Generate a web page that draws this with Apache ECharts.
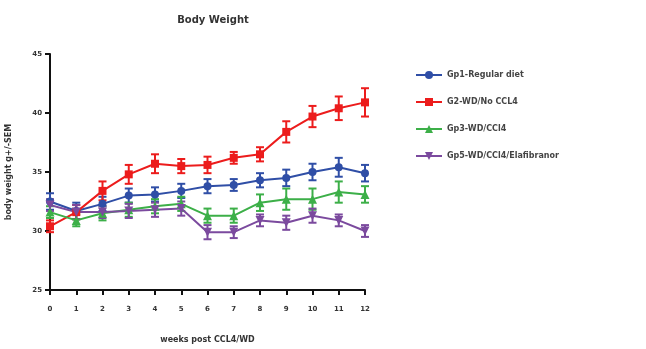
<!DOCTYPE html>
<html><head><meta charset="utf-8">
<script src="https://cdn.jsdelivr.net/npm/echarts@6/dist/echarts.min.js"></script>
<style>html,body{margin:0;padding:0;background:#fff}#c{width:646px;height:349px}</style>
</head><body><div id="c"></div>
<script>
const weeks = [0,1,2,3,4,5,6,7,8,9,10,11,12];
const names = ['Gp1-Regular diet','G2-WD/No CCL4','Gp3-WD/CCl4','Gp5-WD/CCl4/Elafibranor'];
const gp1 = [32.5,31.7,32.3,33.0,33.1,33.4,33.8,33.9,34.3,34.5,35.0,35.4,34.9];
const gp2 = [30.4,31.6,33.4,34.8,35.7,35.5,35.6,36.2,36.5,38.4,39.7,40.4,40.9];
const gp3 = [31.6,30.9,31.5,31.8,32.1,32.3,31.3,31.3,32.4,32.7,32.7,33.3,33.1];
const gp5 = [32.2,31.6,31.6,31.7,31.8,31.9,29.9,29.9,30.9,30.7,31.3,30.9,30.0];
const err1 = [0.7,0.7,0.6,0.6,0.6,0.6,0.6,0.5,0.6,0.7,0.7,0.8,0.7];
const err2 = [0.5,0.6,0.8,0.8,0.8,0.6,0.7,0.5,0.6,0.9,0.9,1.0,1.2];
const err3 = [0.5,0.5,0.6,0.6,0.6,0.6,0.6,0.6,0.7,0.9,0.9,0.9,0.7];
const err5 = [0.5,0.6,0.5,0.6,0.6,0.6,0.6,0.5,0.5,0.6,0.6,0.5,0.5];
const yTicks = [25,30,35,40,45];
const colors = ['#2f4ea6','#ec1c1c','#3caf48','#7b4a9e'];
const symbols = ['circle','rect','triangle','path://M0,0 L10,0 L5,9 Z'];
const vals = [gp1,gp2,gp3,gp5];
const errs = [err1,err2,err3,err5];

const chart = echarts.init(document.getElementById('c'));
const series = [];
vals.forEach((v,i)=>{
  series.push({
    type:'custom', name:'err'+i, silent:true,
    itemStyle:{color:colors[i]},
    data: weeks.map((w,j)=>[w, v[j]-errs[i][j], v[j]+errs[i][j]]),
    renderItem:(params, api)=>{
      const x = api.value(0);
      const lo = api.coord([x, api.value(1)]);
      const hi = api.coord([x, api.value(2)]);
      const hw = 4;
      const st = {stroke: colors[i], lineWidth: 2};
      return {type:'group', children:[
        {type:'line', shape:{x1:lo[0],y1:lo[1],x2:hi[0],y2:hi[1]}, style:st},
        {type:'line', shape:{x1:lo[0]-hw,y1:lo[1],x2:lo[0]+hw,y2:lo[1]}, style:st},
        {type:'line', shape:{x1:hi[0]-hw,y1:hi[1],x2:hi[0]+hw,y2:hi[1]}, style:st}
      ]};
    },
    z: 2
  });
  series.push({
    type:'line', name:names[i],
    data: weeks.map((w,j)=>[w, v[j]]),
    symbol: symbols[i], symbolSize: i===1?8:(i===0?8:9),
    lineStyle:{color:colors[i], width:2},
    itemStyle:{color:colors[i]},
    z: 3
  });
});

chart.setOption({
  animation:false,
  title:{text:'Body Weight', left:208, top:10, textAlign:'center',
    textStyle:{fontFamily:'DejaVu Sans', fontSize:10, fontWeight:'bold', color:'#333'}},
  legend:{
    orient:'vertical', left:410, top:66, itemGap:19, itemWidth:26, itemHeight:10,
    data: names,
    textStyle:{fontFamily:'DejaVu Sans', fontSize:8, color:'#444', fontWeight:'bold'}
  },
  grid:{left:50, right:281, top:54, bottom:58, containLabel:false},
  xAxis:{
    type:'value', min:0, max:12, interval:1,
    name:'weeks post CCL4/WD', nameLocation:'middle', nameGap:46,
    nameTextStyle:{fontFamily:'DejaVu Sans', fontSize:8, fontWeight:'bold', color:'#333'},
    axisLine:{show:true, lineStyle:{color:'#111', width:2}},
    axisTick:{show:true, length:5, lineStyle:{color:'#111', width:2}},
    axisLabel:{margin:16, fontFamily:'DejaVu Sans', fontSize:7, fontWeight:'bold', color:'#333'},
    splitLine:{show:false}
  },
  yAxis:{
    type:'value', min:25, max:45, interval:5,
    name:'body weight g+/-SEM', nameLocation:'middle', nameGap:37, nameRotate:90,
    nameTextStyle:{fontFamily:'DejaVu Sans', fontSize:8, fontWeight:'bold', color:'#333'},
    axisLine:{show:true, lineStyle:{color:'#111', width:2}},
    axisTick:{show:true, length:5, lineStyle:{color:'#111', width:2}},
    axisLabel:{margin:8, fontFamily:'DejaVu Sans', fontSize:7, fontWeight:'bold', color:'#333',
      formatter:(v)=> yTicks.includes(v) ? String(v) : ''},
    splitLine:{show:false}
  },
  series: series
});
</script></body></html>
